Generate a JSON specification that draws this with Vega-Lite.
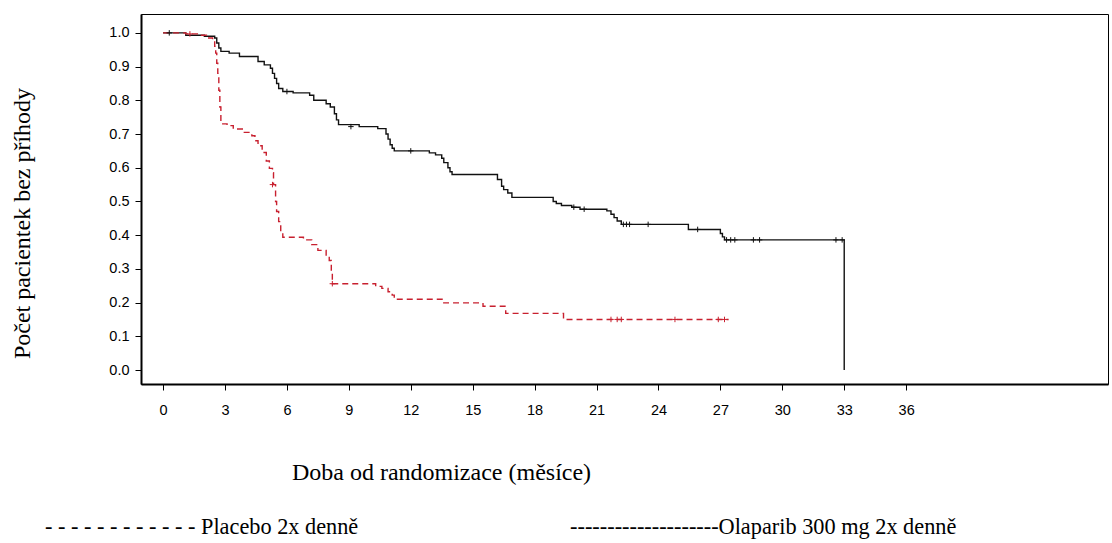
{
  "$schema": "https://vega.github.io/schema/vega-lite/v6.json",
  "width": 967,
  "height": 370,
  "autosize": {"type": "none"},
  "padding": {"left": 141, "top": 14, "right": 4, "bottom": 159},
  "background": "white",
  "title": {
    "text": "- - - - - - - - - - - - Placebo 2x denně\u00a0\u00a0\u00a0\u00a0\u00a0\u00a0\u00a0\u00a0\u00a0\u00a0\u00a0\u00a0\u00a0\u00a0\u00a0\u00a0\u00a0\u00a0\u00a0\u00a0\u00a0\u00a0\u00a0\u00a0\u00a0\u00a0\u00a0\u00a0\u00a0\u00a0\u00a0\u00a0\u00a0\u00a0\u00a0\u00a0\u00a0\u00a0--------------------Olaparib 300 mg 2x denně",
    "orient": "bottom",
    "anchor": "start",
    "frame": "group",
    "dx": -96,
    "offset": 32,
    "font": "Liberation Serif",
    "fontSize": 22.3,
    "fontWeight": "normal",
    "color": "#000000"
  },
  "config": {
    "view": {"stroke": "#000000", "strokeWidth": 1},
    "axis": {
      "grid": false,
      "domainColor": "#000000",
      "domainWidth": 2,
      "tickColor": "#000000",
      "tickSize": 6,
      "labelFont": "Liberation Sans",
      "labelFontSize": 14.5,
      "labelColor": "#000000",
      "titleFont": "Liberation Serif",
      "titleFontSize": 24,
      "titleFontWeight": "normal",
      "titleColor": "#000000"
    }
  },
  "datasets": {
    "curves": [
      {"arm": "Olaparib", "t": 0, "s": 1.0},
      {"arm": "Olaparib", "t": 1.1, "s": 0.993},
      {"arm": "Olaparib", "t": 2.0, "s": 0.99},
      {"arm": "Olaparib", "t": 2.5, "s": 0.985},
      {"arm": "Olaparib", "t": 2.6, "s": 0.97},
      {"arm": "Olaparib", "t": 2.7, "s": 0.955},
      {"arm": "Olaparib", "t": 2.8, "s": 0.945},
      {"arm": "Olaparib", "t": 3.2, "s": 0.94},
      {"arm": "Olaparib", "t": 3.7, "s": 0.93},
      {"arm": "Olaparib", "t": 4.6, "s": 0.915},
      {"arm": "Olaparib", "t": 4.9, "s": 0.905},
      {"arm": "Olaparib", "t": 5.2, "s": 0.895},
      {"arm": "Olaparib", "t": 5.3, "s": 0.88},
      {"arm": "Olaparib", "t": 5.4, "s": 0.865},
      {"arm": "Olaparib", "t": 5.5, "s": 0.85},
      {"arm": "Olaparib", "t": 5.6, "s": 0.835},
      {"arm": "Olaparib", "t": 5.8, "s": 0.826},
      {"arm": "Olaparib", "t": 6.3, "s": 0.822},
      {"arm": "Olaparib", "t": 7.1, "s": 0.815},
      {"arm": "Olaparib", "t": 7.3, "s": 0.8},
      {"arm": "Olaparib", "t": 7.9, "s": 0.79},
      {"arm": "Olaparib", "t": 8.1, "s": 0.78},
      {"arm": "Olaparib", "t": 8.3, "s": 0.76},
      {"arm": "Olaparib", "t": 8.4, "s": 0.742},
      {"arm": "Olaparib", "t": 8.5, "s": 0.728},
      {"arm": "Olaparib", "t": 9.5, "s": 0.722},
      {"arm": "Olaparib", "t": 10.4, "s": 0.716},
      {"arm": "Olaparib", "t": 10.8, "s": 0.7},
      {"arm": "Olaparib", "t": 10.9, "s": 0.685},
      {"arm": "Olaparib", "t": 11.0, "s": 0.668},
      {"arm": "Olaparib", "t": 11.1, "s": 0.658},
      {"arm": "Olaparib", "t": 11.2, "s": 0.65},
      {"arm": "Olaparib", "t": 12.9, "s": 0.644},
      {"arm": "Olaparib", "t": 13.2, "s": 0.638},
      {"arm": "Olaparib", "t": 13.5, "s": 0.628},
      {"arm": "Olaparib", "t": 13.6, "s": 0.615},
      {"arm": "Olaparib", "t": 13.8, "s": 0.6},
      {"arm": "Olaparib", "t": 13.9, "s": 0.588},
      {"arm": "Olaparib", "t": 14.0, "s": 0.58},
      {"arm": "Olaparib", "t": 16.2, "s": 0.565},
      {"arm": "Olaparib", "t": 16.4, "s": 0.545},
      {"arm": "Olaparib", "t": 16.5, "s": 0.535},
      {"arm": "Olaparib", "t": 16.7, "s": 0.525},
      {"arm": "Olaparib", "t": 16.9, "s": 0.512},
      {"arm": "Olaparib", "t": 18.9, "s": 0.5},
      {"arm": "Olaparib", "t": 19.05, "s": 0.494},
      {"arm": "Olaparib", "t": 19.3, "s": 0.488},
      {"arm": "Olaparib", "t": 19.8, "s": 0.483},
      {"arm": "Olaparib", "t": 20.2, "s": 0.477},
      {"arm": "Olaparib", "t": 21.5, "s": 0.472},
      {"arm": "Olaparib", "t": 21.7, "s": 0.462},
      {"arm": "Olaparib", "t": 21.85, "s": 0.452},
      {"arm": "Olaparib", "t": 22.0, "s": 0.442},
      {"arm": "Olaparib", "t": 22.2, "s": 0.432},
      {"arm": "Olaparib", "t": 25.45, "s": 0.417},
      {"arm": "Olaparib", "t": 27.0, "s": 0.405},
      {"arm": "Olaparib", "t": 27.1, "s": 0.395},
      {"arm": "Olaparib", "t": 27.2, "s": 0.386},
      {"arm": "Olaparib", "t": 33.0, "s": 0.0},
      {"arm": "Placebo", "t": 0, "s": 1.0},
      {"arm": "Placebo", "t": 1.1, "s": 0.997},
      {"arm": "Placebo", "t": 1.8, "s": 0.993},
      {"arm": "Placebo", "t": 2.1, "s": 0.985},
      {"arm": "Placebo", "t": 2.4, "s": 0.978},
      {"arm": "Placebo", "t": 2.5, "s": 0.96},
      {"arm": "Placebo", "t": 2.55, "s": 0.94},
      {"arm": "Placebo", "t": 2.6, "s": 0.91},
      {"arm": "Placebo", "t": 2.65, "s": 0.88},
      {"arm": "Placebo", "t": 2.7, "s": 0.83},
      {"arm": "Placebo", "t": 2.75, "s": 0.78},
      {"arm": "Placebo", "t": 2.8, "s": 0.73},
      {"arm": "Placebo", "t": 3.1, "s": 0.725},
      {"arm": "Placebo", "t": 3.4, "s": 0.715},
      {"arm": "Placebo", "t": 3.9, "s": 0.705},
      {"arm": "Placebo", "t": 4.3, "s": 0.695},
      {"arm": "Placebo", "t": 4.45, "s": 0.68},
      {"arm": "Placebo", "t": 4.6, "s": 0.665},
      {"arm": "Placebo", "t": 4.8, "s": 0.645},
      {"arm": "Placebo", "t": 5.0, "s": 0.62},
      {"arm": "Placebo", "t": 5.15, "s": 0.598},
      {"arm": "Placebo", "t": 5.3, "s": 0.585},
      {"arm": "Placebo", "t": 5.35, "s": 0.55},
      {"arm": "Placebo", "t": 5.45, "s": 0.5},
      {"arm": "Placebo", "t": 5.5, "s": 0.47},
      {"arm": "Placebo", "t": 5.6, "s": 0.44},
      {"arm": "Placebo", "t": 5.7, "s": 0.41},
      {"arm": "Placebo", "t": 5.8, "s": 0.394},
      {"arm": "Placebo", "t": 6.8, "s": 0.386},
      {"arm": "Placebo", "t": 7.2, "s": 0.372},
      {"arm": "Placebo", "t": 7.5, "s": 0.355},
      {"arm": "Placebo", "t": 7.9, "s": 0.338},
      {"arm": "Placebo", "t": 8.05, "s": 0.325},
      {"arm": "Placebo", "t": 8.15, "s": 0.29},
      {"arm": "Placebo", "t": 8.2, "s": 0.256},
      {"arm": "Placebo", "t": 10.3, "s": 0.248},
      {"arm": "Placebo", "t": 10.6, "s": 0.242},
      {"arm": "Placebo", "t": 10.9, "s": 0.232},
      {"arm": "Placebo", "t": 11.1, "s": 0.222},
      {"arm": "Placebo", "t": 11.2, "s": 0.21},
      {"arm": "Placebo", "t": 13.6, "s": 0.199},
      {"arm": "Placebo", "t": 15.5, "s": 0.189},
      {"arm": "Placebo", "t": 16.6, "s": 0.168},
      {"arm": "Placebo", "t": 19.4, "s": 0.15},
      {"arm": "Placebo", "t": 27.4, "s": 0.15}
    ],
    "censored": [
      {"arm": "Olaparib", "t": 0.3, "s": 1.0},
      {"arm": "Olaparib", "t": 6.0, "s": 0.826},
      {"arm": "Olaparib", "t": 9.1, "s": 0.722},
      {"arm": "Olaparib", "t": 12.0, "s": 0.65},
      {"arm": "Olaparib", "t": 19.9, "s": 0.483},
      {"arm": "Olaparib", "t": 20.4, "s": 0.477},
      {"arm": "Olaparib", "t": 22.3, "s": 0.432},
      {"arm": "Olaparib", "t": 22.45, "s": 0.432},
      {"arm": "Olaparib", "t": 22.6, "s": 0.432},
      {"arm": "Olaparib", "t": 23.5, "s": 0.432},
      {"arm": "Olaparib", "t": 25.9, "s": 0.417},
      {"arm": "Olaparib", "t": 27.3, "s": 0.386},
      {"arm": "Olaparib", "t": 27.5, "s": 0.386},
      {"arm": "Olaparib", "t": 27.7, "s": 0.386},
      {"arm": "Olaparib", "t": 28.6, "s": 0.386},
      {"arm": "Olaparib", "t": 28.9, "s": 0.386},
      {"arm": "Olaparib", "t": 32.6, "s": 0.386},
      {"arm": "Olaparib", "t": 32.9, "s": 0.386},
      {"arm": "Placebo", "t": 1.3, "s": 0.997},
      {"arm": "Placebo", "t": 5.3, "s": 0.55},
      {"arm": "Placebo", "t": 8.2, "s": 0.256},
      {"arm": "Placebo", "t": 21.7, "s": 0.15},
      {"arm": "Placebo", "t": 22.0, "s": 0.15},
      {"arm": "Placebo", "t": 22.2, "s": 0.15},
      {"arm": "Placebo", "t": 24.8, "s": 0.15},
      {"arm": "Placebo", "t": 26.9, "s": 0.15},
      {"arm": "Placebo", "t": 27.2, "s": 0.15}
    ]
  },
  "encoding": {
    "x": {
      "field": "t",
      "type": "quantitative",
      "scale": {"domain": [-1.07, 45.78], "nice": false, "zero": false},
      "axis": {
        "values": [0, 3, 6, 9, 12, 15, 18, 21, 24, 27, 30, 33, 36],
        "labelPadding": 13,
        "title": "Doba od randomizace (měsíce)",
        "titleX": 300,
        "titleY": 88,
        "titleAlign": "center",
        "titleBaseline": "middle"
      }
    },
    "y": {
      "field": "s",
      "type": "quantitative",
      "scale": {"domain": [-0.0415, 1.056], "nice": false, "zero": false},
      "axis": {
        "values": [0, 0.1, 0.2, 0.3, 0.4, 0.5, 0.6, 0.7, 0.8, 0.9, 1.0],
        "format": ".1f",
        "labelPadding": 6,
        "title": "Počet pacientek bez příhody",
        "titleX": -119,
        "titleY": 209,
        "titleAngle": -90,
        "titleAlign": "center",
        "titleBaseline": "middle"
      }
    },
    "color": {
      "field": "arm",
      "type": "nominal",
      "scale": {"domain": ["Olaparib", "Placebo"], "range": ["#111111", "#c8202f"]},
      "legend": null
    }
  },
  "layer": [
    {
      "data": {"name": "curves"},
      "mark": {"type": "line", "interpolate": "step-after", "strokeWidth": 1.4},
      "encoding": {
        "strokeDash": {
          "field": "arm",
          "type": "nominal",
          "scale": {"domain": ["Olaparib", "Placebo"], "range": [[1, 0], [6, 4]]},
          "legend": null
        }
      }
    },
    {
      "data": {"name": "censored"},
      "mark": {"type": "point", "shape": "M-1,0L1,0M0,-1L0,1", "filled": false, "size": 30, "strokeWidth": 1, "opacity": 1}
    }
  ]
}
